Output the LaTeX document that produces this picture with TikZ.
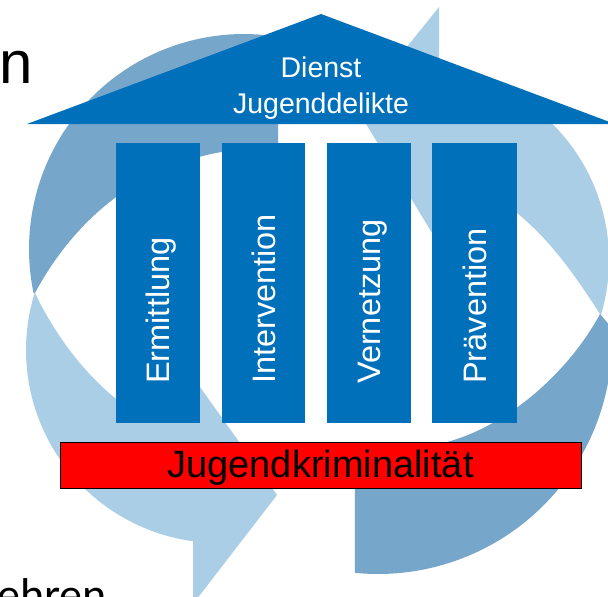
\documentclass[tikz,border=0pt]{standalone}
\usepackage{fontspec}
\setmainfont{Liberation Sans}
\newfontfamily\slidefont{Carlito}
\definecolor{pillarblue}{RGB}{0,112,187}
\definecolor{lightband}{RGB}{171,206,231}
\definecolor{midband}{RGB}{118,167,203}
\begin{document}
\begin{tikzpicture}[x=1pt,y=-1pt,
  pillarbox/.style={fill=pillarblue,draw=none,inner sep=0pt,minimum height=280pt},
  pillartext/.style={text=white,rotate=90,anchor=base west,inner sep=0pt,font=\fontsize{32.5}{38}\selectfont},
  rooftext/.style={text=white,anchor=base,inner sep=0pt,font=\fontsize{28.5}{34}\selectfont},
  crimebar/.style={fill=red,draw=black,line width=0.8pt,inner sep=0pt,minimum width=521pt,minimum height=46pt},
  crimetext/.style={text=black,anchor=base,inner sep=0pt,font=\fontsize{38}{44}\selectfont},
  slidetext/.style={text=black,anchor=base west,inner sep=0pt}
]
\useasboundingbox (0,0) rectangle (608,597);
\clip (0,0) rectangle (608,597);
\fill[white] (0,0) rectangle (608,597);
% left arrow: back face (top-left)
\fill[midband] (278,37) -- (278,148) .. controls (170,145) and (85,200) .. (35,293)
  -- plot[domain=168.1:279,samples=60] ({244+215*cos(\x)},{249+215*sin(\x)}) -- cycle;
% left arrow: front face with head (bottom-left)
\fill[lightband] (35,293) .. controls (55,335) and (85,375) .. (120,402) -- (180,359)
  -- (277,495) -- (193,604) -- (193,542)
  -- plot[domain=97.7:197.2,samples=60] ({219+193*cos(\x)},{350+193*sin(\x)}) -- cycle;
% right arrow: front face with head (top-right)
\fill[lightband] (439,7) -- (439,69)
  -- plot[domain=276.6:376.7,samples=60] ({417+192*cos(\x)},{260+192*sin(\x)})
  -- (600,314) .. controls (575,275) and (550,240) .. (517,213) -- (512,216) -- (455,271) -- (357,109) -- cycle;
% right arrow: back face (bottom-right)
\fill[midband] (600,314)
  -- plot[domain=-3:95.7,samples=60] ({378+234*cos(\x)},{340+234*sin(\x)})
  -- (355,468) .. controls (380,460) and (410,452) .. (447,442)
  .. controls (510,425) and (570,370) .. (600,314) -- cycle;
% roof
\fill[pillarblue] (27,124) -- (321,14) -- (615,124) -- cycle;
\node[rooftext] (dienst) at (321,77.5) {Dienst};
\node[rooftext] (jugenddelikte) at (321,113) {Jugenddelikte};
% pillars
\node[pillarbox,minimum width=84pt] (p1) at (158,283) {};
\node[pillarbox,minimum width=83pt] (p2) at (263.5,283) {};
\node[pillarbox,minimum width=84pt] (p3) at (369,283) {};
\node[pillarbox,minimum width=85pt] (p4) at (474.5,283) {};
\node[pillartext] (t1) at (169.5,384) {Ermittlung};
\node[pillartext] (t2) at (275,384) {Intervention};
\node[pillartext] (t3) at (380.5,384) {Vernetzung};
\node[pillartext] (t4) at (486,384) {Prävention};
% base bar
\node[crimebar] (crime) at (320.5,465) {};
\node[crimetext] (crimelabel) at (320.5,477) {Jugendkriminalität};
% slide text fragments
\node[slidetext,font=\fontsize{60}{70}\selectfont] (ntext) at (-1,83) {n};
\node[slidetext,font=\slidefont\fontsize{46}{52}\selectfont] (ehren) at (-3,610) {ehren};
\end{tikzpicture}
\end{document}
